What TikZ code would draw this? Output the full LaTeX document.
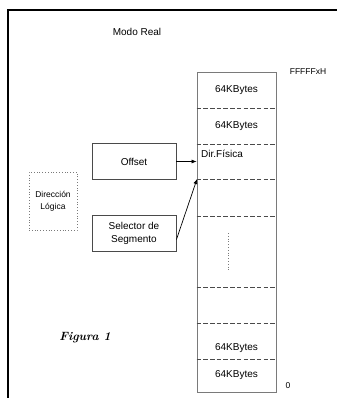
\documentclass[tikz,border=0pt]{standalone}
\usepackage{fontspec}
\setsansfont{Liberation Sans}
\usetikzlibrary{arrows.meta,positioning}
\definecolor{LineGray}{HTML}{4A4A4A}
\definecolor{WallGray}{HTML}{7A7A7A}
\tikzset{
  % Labelled box
  lbox/.style={
    rectangle, draw=LineGray, line width=0.9pt,
    minimum width=84pt, minimum height=36pt, inner sep=1pt,
    align=center, font=\sffamily\fontsize{10}{13}\selectfont
  },
  % Dotted group box
  dotbox/.style={
    rectangle, draw=WallGray, dotted, line width=0.8pt,
    minimum width=48pt, minimum height=58pt, inner sep=1pt,
    align=center, font=\sffamily\fontsize{8.5}{12}\selectfont
  },
  % Memory cell label
  cell/.style={font=\sffamily\fontsize{10}{12}\selectfont, inner sep=1pt},
  % Small label
  lbl/.style={font=\sffamily\fontsize{8.5}{10}\selectfont, inner sep=1pt},
  % Separator
  sep/.style={draw=LineGray, dash pattern=on 4.5pt off 2.2pt, line width=0.9pt},
  % Arrow
  arr/.style={-{Latex[length=5pt,width=4pt]}, line width=0.7pt, color=black}
}
\begin{document}
\begin{tikzpicture}[x=1pt, y=-1pt]
  \useasboundingbox (0,0) rectangle (337,398);

  % Frame
  \draw[line width=2.6pt] (8,398) -- (8,10) -- (337,10);

  % Title
  \node[font=\sffamily\fontsize{10}{12}\selectfont] (title) at (137,32) {Modo Real};

  % Memory column
  \node[draw=WallGray, line width=0.8pt, minimum width=79pt, minimum height=320pt,
        inner sep=0pt] (mem) at (236.5,232) {};
  \foreach \y in {108,144,179,216,287,323,359}{
    \draw[sep] (mem.west |- 0,\y) -- (mem.east |- 0,\y);
  }
  \draw[draw=WallGray, dotted, line width=0.8pt] (228,233) -- (228,270);
  \coordinate (dirf) at (197,179);

  % Cell labels
  \node[cell] (k1) at (236.5,90) {64KBytes};
  \node[cell] (k2) at (236.5,126) {64KBytes};
  \node[cell, anchor=west] (df) at (200,154) {Dir.Física};
  \node[cell] (k3) at (236.5,348) {64KBytes};
  \node[cell] (k4) at (236.5,375) {64KBytes};

  % Addresses
  \node[lbl] (top) at (308,72) {FFFFFxH};
  \node[lbl] (zero) at (288,386) {0};

  % Inputs
  \node[lbox] (offset) at (134,161.5) {Offset};
  \node[lbox] (selector) at (134,233.5) {Selector de\\Segmento};
  \node[dotbox] (logic) at (53,201) {Dirección\\Lógica};

  \draw[arr] (offset.east) -- (mem.west |- offset.east);
  \draw[arr] ([yshift=-6pt]selector.east) -- (dirf);

  % Caption
  \node[font=\rmfamily\bfseries\itshape\fontsize{12}{14}\selectfont] (fig) at (85,338) {Figura 1};

\end{tikzpicture}
\end{document}
